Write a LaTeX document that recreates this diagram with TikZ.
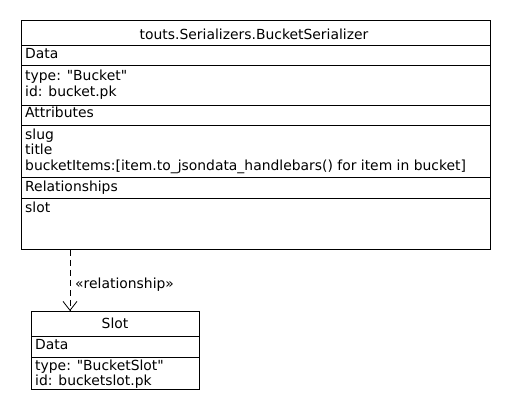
\documentclass[tikz,border=0pt]{standalone}
\usepackage{fontspec}
\newfontfamily\dvsans{DejaVu Sans}
\usetikzlibrary{arrows.meta}
\begin{document}
\begin{tikzpicture}[x=1pt,y=-1pt,
  box/.style={draw,line width=0.9pt,anchor=north west,inner sep=0pt},
  sep/.style={line width=0.9pt},
  txt/.style={anchor=base west,inner sep=0pt,font=\dvsans\fontsize{13.9}{15}\selectfont},
  ctxt/.style={anchor=base,inner sep=0pt,font=\dvsans\fontsize{13.9}{15}\selectfont},
  rel/.style={dash pattern=on 6pt off 4pt,line width=0.8pt,-{Straight Barb[length=9pt,width=14pt,line width=0.8pt]}}]
\useasboundingbox (0,0) rectangle (510,410);
% top class
\node[box,minimum width=469pt,minimum height=229pt] (ser) at (21,20) {};
\draw[sep] (21,45) -- (490,45);
\draw[sep] (21,65) -- (490,65);
\draw[sep] (21,105) -- (490,105);
\draw[sep] (21,125) -- (490,125);
\draw[sep] (21,177) -- (490,177);
\draw[sep] (21,198) -- (490,198);
\node[ctxt] (sert) at (254,39) {touts.Serializers.BucketSerializer};
\node[txt] (d1) at (25,58.5) {Data};
\node[txt] (t1) at (25,80) {type: "Bucket"};
\node[txt] (i1) at (25,96) {id: bucket.pk};
\node[txt] (a1) at (25,117.5) {Attributes};
\node[txt] (s1) at (25,139) {slug};
\node[txt] (ti1) at (25,154.5) {title};
\node[txt] (b1) at (25,170) {bucketItems:[item.to\_jsondata\_handlebars() for item in bucket]};
\node[txt] (r1) at (25,191.5) {Relationships};
\node[txt] (sl1) at (25,212) {slot};
% slot class
\node[box,minimum width=168pt,minimum height=78pt] (slot) at (31,311) {};
\draw[sep] (31,336) -- (199,336);
\draw[sep] (31,357) -- (199,357);
\node[ctxt] (slt) at (115,328.3) {Slot};
\node[txt] (d2) at (35,349.5) {Data};
\node[txt] (t2) at (35,370.7) {type: "BucketSlot"};
\node[txt] (i2) at (35,385) {id: bucketslot.pk};
% relationship
\coordinate (from) at (ser.south west -| 70,0);
\coordinate (to) at (slot.north west -| 70,0);
\draw[rel] (from) -- (to);
\node[txt] (rl) at (75,288.3) {«relationship»};
\end{tikzpicture}
\end{document}
